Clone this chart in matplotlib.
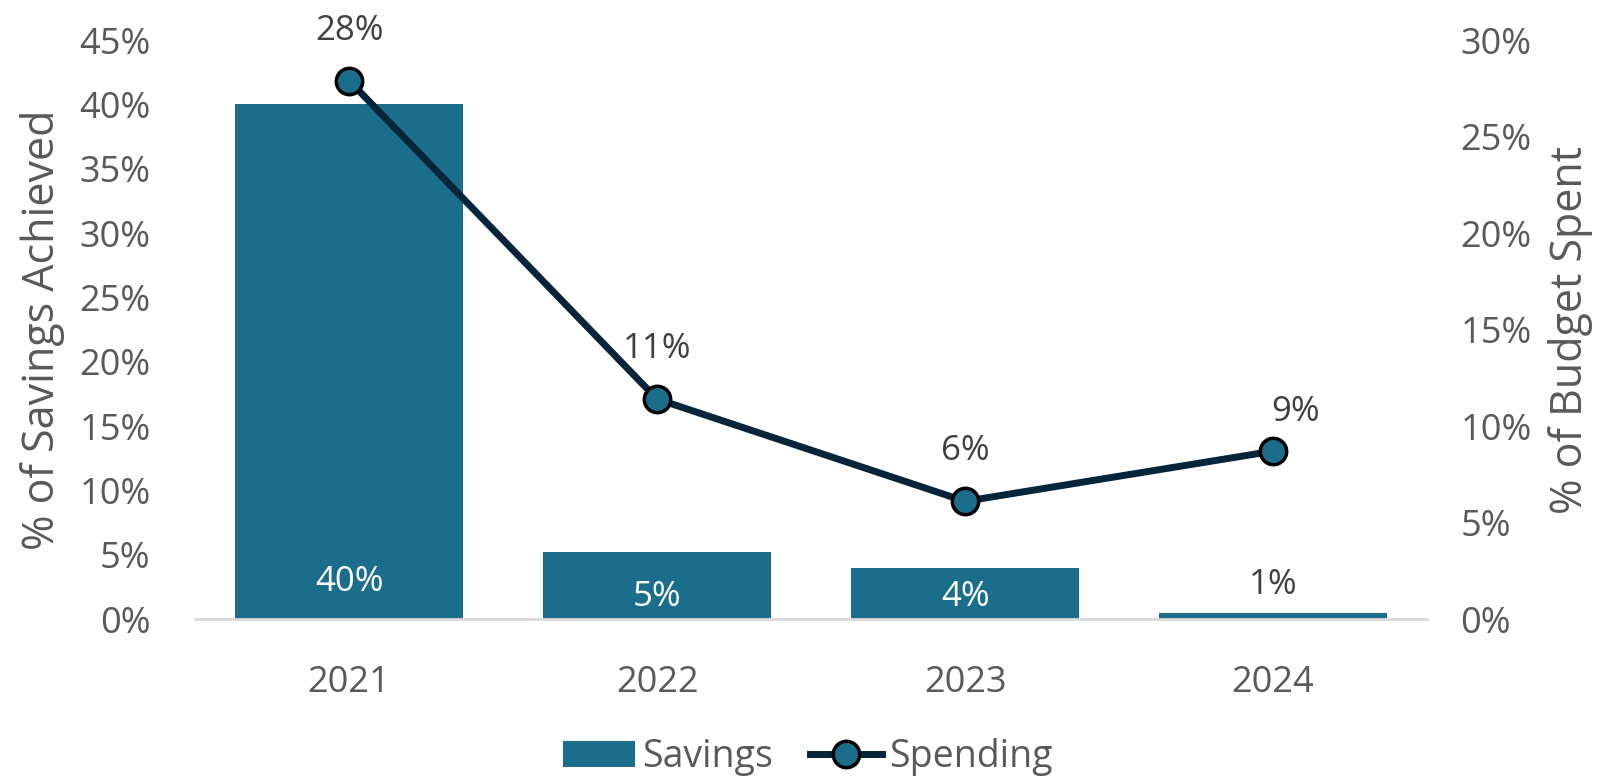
import matplotlib.pyplot as plt
from matplotlib.lines import Line2D
from matplotlib.patches import Patch
from matplotlib.ticker import PercentFormatter

# Data
years = ['2021', '2022', '2023', '2024']
savings = [40.0, 5.2, 4.0, 0.5]      # % of savings achieved (left axis)
spending = [27.9, 11.4, 6.1, 8.7]    # % of budget spent (right axis)

bar_color = '#1B6D8C'
line_color = '#06243A'
tick_color = '#595959'
label_color = '#404040'


def pct(v):
    return f'{int(v + 0.5)}%'


plt.rcParams['font.family'] = ['Open Sans', 'DejaVu Sans']

fig = plt.figure(figsize=(16.16, 7.82), dpi=100)
ax = fig.add_axes([0.1207, 0.2084, 0.7624, 0.7404])
ax2 = ax.twinx()

x = range(len(years))
ax.bar(x, savings, width=0.74, color=bar_color, zorder=2)

ax.set_xlim(-0.5, len(years) - 0.5)
ax.set_ylim(0, 45)
ax.set_yticks(range(0, 46, 5))
ax.yaxis.set_major_formatter(PercentFormatter(decimals=0))
ax.set_xticks(list(x))
ax.set_xticklabels(years)

ax2.set_ylim(0, 30)
ax2.set_yticks(range(0, 31, 5))
ax2.yaxis.set_major_formatter(PercentFormatter(decimals=0))

for a in (ax, ax2):
    for s in a.spines.values():
        s.set_visible(False)
ax.spines['bottom'].set_visible(True)
ax.spines['bottom'].set_color('#D9D9D9')
ax.spines['bottom'].set_linewidth(2)

ax.tick_params(axis='y', length=0, pad=32, labelsize=26, labelcolor=tick_color)
ax.tick_params(axis='x', length=0, pad=33, labelsize=26, labelcolor=tick_color)
ax2.tick_params(axis='y', length=0, pad=24, labelsize=26, labelcolor=tick_color)

ax.set_ylabel('% of Savings Achieved', fontsize=31, color=tick_color, labelpad=10)
ax2.set_ylabel('% of Budget Spent', fontsize=31, color=tick_color, labelpad=12)

# spending line
ax2.plot(list(x), spending, color=line_color, linewidth=5, marker='o',
         markersize=19, markerfacecolor=bar_color, markeredgecolor='black',
         markeredgewidth=2.5, zorder=3)

# bar labels
for i, v in enumerate(savings):
    if v < 2:
        ax.annotate(pct(v), (i, v), xytext=(0, 20), textcoords='offset points',
                    ha='center', va='center', fontsize=25, color=label_color)
    else:
        off = 27 if v > 20 else 16
        ax.annotate(pct(v), (i, 0), xytext=(0, off), textcoords='offset points',
                    ha='center', va='center', fontsize=25, color='white')

# line labels (last one sits a bit lower and to the right, as in the original)
for i, v in enumerate(spending):
    dx, dy = (16, 28) if i == len(spending) - 1 else (0, 36)
    ax2.annotate(pct(v), (i, v), xytext=(dx, dy), textcoords='offset points',
                 ha='center', va='center', fontsize=25, color=label_color)

handles = [Patch(facecolor=bar_color, label='Savings'),
           Line2D([], [], color=line_color, linewidth=5, marker='o', markersize=19,
                  markerfacecolor=bar_color, markeredgecolor='black',
                  markeredgewidth=2.5, label='Spending')]
fig.legend(handles=handles, loc='center', bbox_to_anchor=(0.5, 0.032), ncol=2,
           frameon=False, fontsize=27, labelcolor=tick_color, handlelength=1.9,
           handletextpad=0.2, columnspacing=1.0, borderpad=0)

fig.savefig('out.png', dpi=100)
